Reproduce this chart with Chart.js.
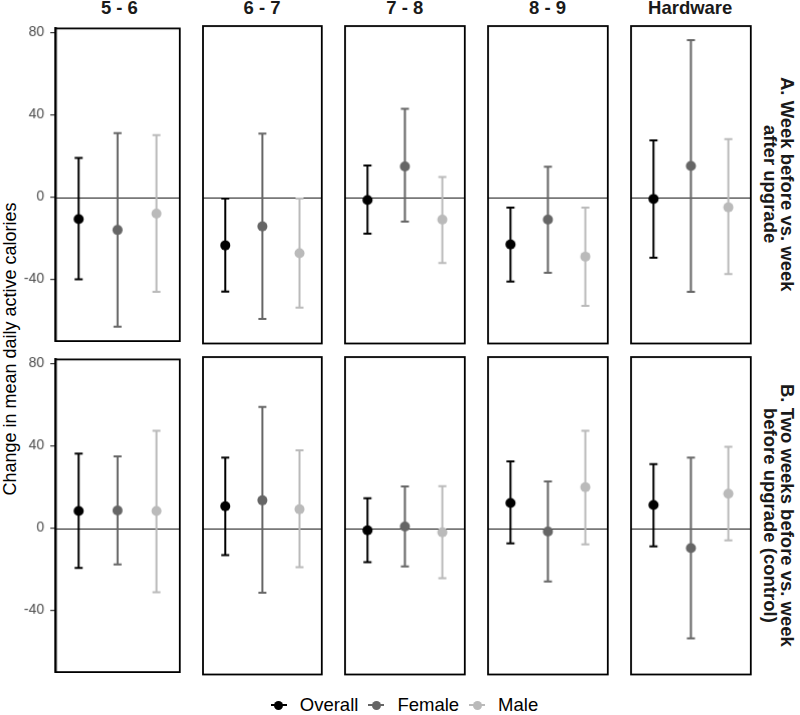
<!DOCTYPE html>
<html>
<head>
<meta charset="utf-8">
<script src="https://cdn.jsdelivr.net/npm/chart.js@4.4.0/dist/chart.umd.min.js"></script>
<style>
  body { margin: 0; background: #fff; font-family: 'Liberation Sans', Arial, sans-serif; }
  #wrap { position: relative; width: 800px; height: 715px; overflow: hidden; }
  .panel { position: absolute; }
  .strip-top { position: absolute; top: -1px; height: 18px; line-height: 18px; font-weight: bold; font-size: 18.5px; text-align: center; color: #1a1a1a; }
  .strip-right { position: absolute; writing-mode: vertical-rl; text-align: center; font-weight: bold; font-size: 18.5px; line-height: 17px; color: #1a1a1a; }
  #ytitle { position: absolute; left: -190px; top: 339px; width: 400px; height: 20px; line-height: 20px; text-align: center; font-size: 18px; transform: rotate(-90deg); }
  #legend { position: absolute; left: 55px; width: 699px; top: 694px; height: 22px; display: flex; justify-content: center; align-items: center; font-size: 18.5px; }
  .item { display: flex; align-items: center; margin: 0 5px; }
  .glyph { position: relative; width: 16px; height: 10px; margin-right: 13px; }
  .glyph .ln { position: absolute; left: 0; top: 4px; width: 16px; height: 2px; }
  .glyph .dt { position: absolute; left: 3.5px; top: 0.5px; width: 9px; height: 9px; border-radius: 50%; }
</style>
</head>
<body>
<div id="wrap">
  <div id="ytitle">Change in mean daily active calories</div>
  <div id="legend"></div>
</div>
<script>
// facets
const panels = ['5 - 6', '6 - 7', '7 - 8', '8 - 9', 'Hardware'];
const rowLabels = [
  ['A. Week before vs. week', 'after upgrade'],
  ['B. Two weeks before vs. week', 'before upgrade (control)']
];
const groups = ['Overall', 'Female', 'Male'];
const groupColors = ['#000000', '#666666', '#bababa'];

// row A: week before vs. week after upgrade
const overallA = [-10.7, -23.0, -1.3, -22.6, -0.8];
const overallALo = [-40.0, -45.1, -17.4, -40.4, -28.9];
const overallAHi = [19.0, -0.6, 15.3, -4.9, 27.3];
const femaleA = [-16.0, -13.9, 14.8, -10.7, 15.0];
const femaleALo = [-63.0, -58.2, -11.6, -36.2, -45.3];
const femaleAHi = [31.1, 30.5, 42.4, 14.7, 75.3];
const maleA = [-8.0, -26.8, -10.7, -28.4, -4.8];
const maleALo = [-46.1, -52.8, -31.4, -52.0, -36.8];
const maleAHi = [30.1, -0.6, 9.7, -4.9, 27.9];

// row B: two weeks before vs. week before upgrade (control)
const overallB = [8.3, 10.6, -1.0, 12.1, 11.2];
const overallBLo = [-19.4, -12.8, -16.2, -7.2, -8.6];
const overallBHi = [36.2, 33.9, 14.4, 32.0, 30.7];
const femaleB = [8.6, 13.4, 0.8, -1.6, -9.5];
const femaleBLo = [-17.6, -30.9, -18.3, -25.5, -52.7];
const femaleBHi = [34.9, 58.1, 20.0, 22.4, 33.8];
const maleB = [8.3, 9.1, -1.9, 19.7, 16.6];
const maleBLo = [-31.2, -18.6, -23.9, -7.7, -5.8];
const maleBHi = [47.3, 37.3, 20.2, 46.7, 39.0];

const yTicks = [-40, 0, 40, 80];

const rowsData = [
  { est: [overallA, femaleA, maleA], lo: [overallALo, femaleALo, maleALo], hi: [overallAHi, femaleAHi, maleAHi] },
  { est: [overallB, femaleB, maleB], lo: [overallBLo, femaleBLo, maleBLo], hi: [overallBHi, femaleBHi, maleBHi] }
];

// layout
const rowTop = [26, 357];
const panelH = 316.5;
const colLeft0 = 55, colStep = 142.7, panelW = 128.8;
const axisW = 55;
const pad = 12;

// zero line + frame
const framePlugin = {
  id: 'frame',
  beforeDatasetsDraw(chart) {
    const { ctx, chartArea: { left, right }, scales: { y } } = chart;
    ctx.save();
    ctx.strokeStyle = '#111';
    ctx.lineWidth = 1.1;
    ctx.beginPath();
    const y0 = Math.round(y.getPixelForValue(0)) + 0.5;
    ctx.moveTo(left, y0);
    ctx.lineTo(right, y0);
    ctx.stroke();
    ctx.restore();
  },
  afterDraw(chart) {
    const { ctx, chartArea: { left, right, top, bottom } } = chart;
    ctx.save();
    ctx.strokeStyle = '#000';
    ctx.lineWidth = 1.8;
    ctx.strokeRect(left, top, right - left, bottom - top);
    ctx.restore();
  }
};

// error bars from the interval arrays
const errorBars = {
  id: 'errorBars',
  beforeDatasetsDraw(chart) {
    const { ctx, scales: { x, y } } = chart;
    ctx.save();
    chart.data.datasets.forEach((ds) => {
      ds.data.forEach((pt) => {
        const px = x.getPixelForValue(pt.x);
        const pLo = y.getPixelForValue(pt.lo);
        const pHi = y.getPixelForValue(pt.hi);
        ctx.strokeStyle = ds.backgroundColor;
        ctx.lineWidth = 2;
        ctx.beginPath();
        ctx.moveTo(px, pLo);
        ctx.lineTo(px, pHi);
        ctx.moveTo(px - 4, pLo);
        ctx.lineTo(px + 4, pLo);
        ctx.moveTo(px - 4, pHi);
        ctx.lineTo(px + 4, pHi);
        ctx.stroke();
      });
    });
    ctx.restore();
  }
};

const wrap = document.getElementById('wrap');

panels.forEach((name, c) => {
  const s = document.createElement('div');
  s.className = 'strip-top';
  s.style.left = (colLeft0 + c * colStep) + 'px';
  s.style.width = panelW + 'px';
  s.textContent = name;
  wrap.appendChild(s);
});

rowLabels.forEach((lines, r) => {
  const s = document.createElement('div');
  s.className = 'strip-right';
  s.style.left = '762px';
  s.style.top = rowTop[r] + 'px';
  s.style.height = panelH + 'px';
  s.style.width = '34px';
  s.innerHTML = lines[0] + '<br>' + lines[1];
  wrap.appendChild(s);
});

rowsData.forEach((rd, r) => {
  panels.forEach((name, c) => {
    const first = c === 0;
    const div = document.createElement('div');
    div.className = 'panel';
    const left = colLeft0 + c * colStep - (first ? axisW : 0);
    div.style.left = left + 'px';
    div.style.top = (rowTop[r] - pad) + 'px';
    div.style.width = (panelW + (first ? axisW : 0)) + 'px';
    div.style.height = (panelH + 2 * pad) + 'px';
    const cv = document.createElement('canvas');
    div.appendChild(cv);
    wrap.appendChild(div);

    const datasets = groups.map((g, k) => ({
      label: g,
      data: [{ x: k + 1, y: rd.est[k][c], lo: rd.lo[k][c], hi: rd.hi[k][c] }],
      backgroundColor: groupColors[k],
      borderColor: groupColors[k],
      borderWidth: 0,
      pointRadius: 5,
      pointHoverRadius: 5
    }));

    const yScale = {
      type: 'linear', min: -70, max: 82,
      display: first,
      afterBuildTicks: (axis) => { axis.ticks = yTicks.map(v => ({ value: v })); },
      grid: { drawOnChartArea: false, drawTicks: true, tickLength: 5, color: '#333', lineWidth: 1.2 },
      border: { display: true, color: '#000', width: 2.5 },
      ticks: { color: '#4d4d4d', padding: 6, font: { family: "'Liberation Sans', Arial, sans-serif", size: 14 } }
    };
    if (first) yScale.afterFit = (axis) => { axis.width = axisW; };

    new Chart(cv, {
      type: 'scatter',
      data: { datasets },
      options: {
        responsive: true,
        maintainAspectRatio: false,
        animation: false,
        layout: { padding: { top: pad, bottom: pad, left: 0, right: 0 } },
        plugins: { legend: { display: false }, tooltip: { enabled: false } },
        scales: {
          x: { type: 'linear', min: 0.4, max: 3.6, display: false },
          y: yScale
        }
      },
      plugins: [framePlugin, errorBars]
    });
  });
});

// legend
const legend = document.getElementById('legend');
groups.forEach((g, k) => {
  const it = document.createElement('div');
  it.className = 'item';
  it.innerHTML = '<div class="glyph"><div class="ln" style="background:' + groupColors[k] + '"></div><div class="dt" style="background:' + groupColors[k] + '"></div></div><span>' + g + '</span>';
  legend.appendChild(it);
});
</script>
</body>
</html>
